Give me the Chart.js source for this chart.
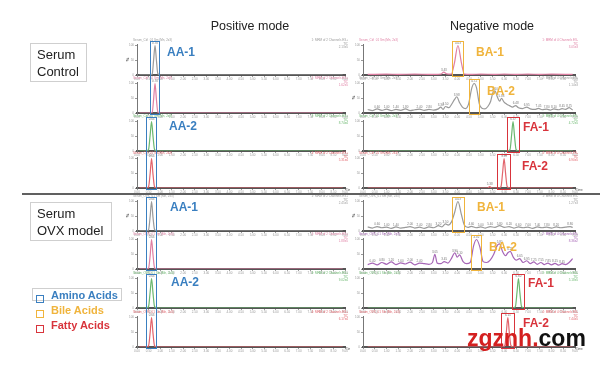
<!DOCTYPE html>
<html>
<head>
<meta charset="utf-8">
<script src="https://cdn.jsdelivr.net/npm/chart.js@4.4.0/dist/chart.umd.min.js"></script>
<style>
  body { margin: 0; width: 600px; height: 365px; background: #fff; position: relative; overflow: hidden;
         font-family: "Liberation Sans", Arial, sans-serif; }
  canvas { position: absolute; }
  .txt { position: absolute; white-space: nowrap; }
  .mode { font-size: 12.5px; color: #222; transform: translateX(-50%); }
  .sample { border: 1px solid #cfcfcf; font-size: 13px; line-height: 17px; color: #222; padding: 2px 6px; box-sizing: border-box; }
  .tag { font-weight: bold; font-size: 12px; line-height: 14px; }
  .box { position: absolute; box-sizing: border-box; border: 1.5px solid; }
  .leg { font-weight: bold; font-size: 11px; line-height: 13px; }
  .sq { position: absolute; width: 6px; height: 6px; border: 1px solid; }
</style>
</head>
<body>
<script>
// ---- data (time in min, intensity in % of base peak) ----
const timeMin = 0, timeMax = 9;

// positive mode, serum control
const aa1CtrlTime = [0.1, 0.55, 0.66, 0.72, 0.78, 0.84, 0.9, 1.0, 8.9];
const aa1CtrlCh1 = [0, 0, 4, 52, 100, 50, 5, 0, 0];
const aa1CtrlCh2 = [0, 0, 3, 48, 100, 46, 4, 0, 0];
const aa2CtrlTime = [0.1, 0.4, 0.5, 0.57, 0.63, 0.69, 0.76, 0.86, 8.9];
const aa2CtrlCh1 = [0, 0, 5, 55, 100, 52, 5, 0, 0];
const aa2CtrlCh2 = [0, 0, 4, 50, 100, 48, 4, 0, 0];

// positive mode, serum OVX model
const aa1OvxTime = [0.1, 0.4, 0.5, 0.57, 0.63, 0.69, 0.76, 0.86, 8.9];
const aa1OvxCh1 = [0, 0, 4, 50, 100, 48, 5, 0, 0];
const aa1OvxCh2 = [0, 0, 3, 46, 100, 50, 4, 0, 0];
const aa2OvxTime = [0.1, 0.4, 0.5, 0.57, 0.63, 0.69, 0.76, 0.86, 8.9];
const aa2OvxCh1 = [0, 0, 5, 55, 100, 52, 5, 0, 0];
const aa2OvxCh2 = [0, 0, 4, 50, 100, 48, 4, 0, 0];

// negative mode, serum control
const ba1CtrlTime = [0.2, 1.0, 1.5, 2.2, 2.8, 3.3, 3.43, 3.55, 3.75, 3.88, 4.03, 4.18, 4.3, 4.6, 5.0, 5.6, 6.0, 6.5, 7.0, 7.5, 8.0, 8.9];
const ba1CtrlVal = [2, 3, 2, 3, 2, 3, 10, 4, 3, 40, 100, 40, 3, 2, 3, 2, 3, 2, 3, 2, 3, 2];
const ba2CtrlTime = [0.2, 0.4, 0.6, 0.8, 1.0, 1.2, 1.4, 1.6, 1.8, 2.0, 2.2, 2.4, 2.6, 2.8, 3.0, 3.2, 3.3, 3.4, 3.5, 3.65,
  3.75, 3.88, 3.98, 4.1, 4.22, 4.35, 4.48, 4.62, 4.72, 4.82, 4.94, 5.05, 5.18, 5.3, 5.42, 5.52, 5.6, 5.7, 5.8, 5.88,
  5.98, 6.1, 6.22, 6.35, 6.48, 6.6, 6.78, 6.95, 7.1, 7.3, 7.45, 7.6, 7.8, 7.95, 8.1, 8.3, 8.45, 8.6, 8.75, 8.9];
const ba2CtrlVal = [12, 8, 14, 9, 13, 8, 12, 9, 14, 8, 11, 13, 9, 12, 10, 14, 20, 12, 22, 18,
  28, 45, 55, 35, 20, 15, 30, 85, 100, 85, 30, 16, 14, 22, 40, 70, 75, 55, 40, 50,
  38, 30, 25, 20, 25, 18, 15, 20, 14, 12, 16, 11, 13, 10, 14, 11, 15, 12, 18, 10];
const fa1CtrlTime = [0.2, 6.1, 6.24, 6.31, 6.37, 6.43, 6.5, 6.64, 8.9];
const fa1CtrlVal = [0, 0, 5, 55, 100, 52, 5, 0, 0];
const fa2CtrlTime = [0.2, 5.3, 5.38, 5.46, 5.75, 5.86, 5.93, 5.99, 6.05, 6.12, 6.25, 8.9];
const fa2CtrlVal = [0, 0, 5, 0, 0, 5, 55, 100, 52, 5, 0, 0];

// negative mode, serum OVX model
const ba1OvxTime = [0.2, 0.4, 0.6, 0.8, 1.0, 1.2, 1.4, 1.6, 1.8, 2.0, 2.2, 2.4, 2.6, 2.8, 3.0, 3.2, 3.35, 3.5, 3.62, 3.75,
  3.88, 4.03, 4.18, 4.3, 4.45, 4.6, 4.8, 5.0, 5.2, 5.4, 5.6, 5.8, 6.0, 6.2, 6.4, 6.6, 6.8, 7.0, 7.2, 7.4,
  7.6, 7.8, 8.0, 8.2, 8.4, 8.6, 8.8, 8.9];
const ba1OvxVal = [14, 10, 15, 11, 13, 9, 14, 10, 12, 15, 10, 13, 9, 14, 11, 18, 14, 24, 20, 30,
  60, 100, 55, 20, 12, 16, 11, 14, 10, 15, 12, 18, 12, 15, 10, 14, 11, 13, 9, 14,
  11, 13, 10, 14, 11, 13, 15, 12];
const ba2OvxTime = [0.2, 0.4, 0.6, 0.8, 1.0, 1.2, 1.4, 1.6, 1.8, 2.0, 2.2, 2.4, 2.6, 2.8, 2.95, 3.05, 3.15, 3.3, 3.45, 3.6,
  3.75, 3.9, 4.0, 4.1, 4.25, 4.4, 4.55, 4.7, 4.82, 4.96, 5.1, 5.25, 5.4, 5.55, 5.7, 5.8, 5.92, 6.05, 6.15, 6.25,
  6.38, 6.5, 6.65, 6.8, 6.95, 7.1, 7.25, 7.4, 7.55, 7.7, 7.85, 8.0, 8.15, 8.3, 8.45, 8.6, 8.75, 8.9];
const ba2OvxVal = [15, 20, 14, 22, 16, 24, 15, 21, 17, 23, 14, 20, 18, 16, 22, 50, 20, 18, 25, 20,
  35, 55, 40, 48, 25, 18, 22, 80, 100, 75, 25, 22, 30, 50, 80, 85, 60, 45, 55, 60,
  40, 30, 35, 22, 28, 18, 24, 16, 22, 15, 20, 14, 19, 13, 18, 15, 22, 35];
const fa1OvxTime = [0.2, 6.35, 6.47, 6.54, 6.6, 6.66, 6.73, 6.86, 8.9];
const fa1OvxVal = [0, 0, 5, 55, 100, 52, 5, 0, 0];
const fa2OvxTime = [0.2, 5.9, 6.02, 6.09, 6.15, 6.21, 6.28, 6.42, 8.9];
const fa2OvxVal = [0, 0, 5, 55, 100, 50, 5, 0, 0];

const gray = '#9a9a9a', pink = '#df7fa3', green = '#6cb870', red = '#e2646c', purple = '#a666b6';
const blue = '#3a7fc0', orange = '#f0b43c', boxRed = '#d8343c';

const leftPanels = [
  { base: 75, time: aa1CtrlTime, vals: aa1CtrlCh1, color: gray, pct: true, hl: 'Serum_Ctrl_01 Sm (Mn, 2x3)', hr: ['1: MRM of 2 Channels ES+', 'TIC', '2.13e5'] },
  { base: 113, time: aa1CtrlTime, vals: aa1CtrlCh2, color: pink, hl: 'Serum_Ctrl_01 Sm (Mn, 2x3)', hr: ['2: MRM of 2 Channels ES+', 'TIC', '1.62e5'] },
  { base: 151, time: aa2CtrlTime, vals: aa2CtrlCh1, color: green, hl: 'Serum_Ctrl_01 Sm (Mn, 2x3)', hr: ['3: MRM of 2 Channels ES+', 'TIC', '8.74e4'] },
  { base: 188, time: aa2CtrlTime, vals: aa2CtrlCh2, color: red, hl: 'Serum_Ctrl_01 Sm (Mn, 2x3)', hr: ['4: MRM of 2 Channels ES+', 'TIC', '5.31e4'], tlabel: true },
  { base: 231, time: aa1OvxTime, vals: aa1OvxCh1, color: gray, pct: true, hl: 'Serum_OVX_01 Sm (Mn, 2x3)', hr: ['1: MRM of 2 Channels ES+', 'TIC', '2.45e5'] },
  { base: 269, time: aa1OvxTime, vals: aa1OvxCh2, color: pink, hl: 'Serum_OVX_01 Sm (Mn, 2x3)', hr: ['2: MRM of 2 Channels ES+', 'TIC', '1.88e5'] },
  { base: 308, time: aa2OvxTime, vals: aa2OvxCh1, color: green, hl: 'Serum_OVX_01 Sm (Mn, 2x3)', hr: ['3: MRM of 2 Channels ES+', 'TIC', '9.02e4'] },
  { base: 347, time: aa2OvxTime, vals: aa2OvxCh2, color: red, hl: 'Serum_OVX_01 Sm (Mn, 2x3)', hr: ['4: MRM of 2 Channels ES+', 'TIC', '6.17e4'], tlabel: true }
];
const rightPanels = [
  { base: 75, time: ba1CtrlTime, vals: ba1CtrlVal, color: pink, hl: 'Serum_Ctrl_01 Sm (Mn, 2x3)', hr: ['1: MRM of 4 Channels ES-', 'TIC', '3.05e3'] },
  { base: 113, time: ba2CtrlTime, vals: ba2CtrlVal, color: gray, pct: true, hl: 'Serum_Ctrl_01 Sm (Mn, 2x3)', hr: ['2: MRM of 4 Channels ES-', 'TIC', '1.14e3'] },
  { base: 151, time: fa1CtrlTime, vals: fa1CtrlVal, color: green, hl: 'Serum_Ctrl_01 Sm (Mn, 2x3)', hr: ['3: MRM of 4 Channels ES-', 'TIC', '4.72e5'] },
  { base: 188, time: fa2CtrlTime, vals: fa2CtrlVal, color: red, hl: 'Serum_Ctrl_01 Sm (Mn, 2x3)', hr: ['4: MRM of 4 Channels ES-', 'TIC', '6.90e5'], tlabel: true },
  { base: 231, time: ba1OvxTime, vals: ba1OvxVal, color: gray, pct: true, hl: 'Serum_OVX_01 Sm (Mn, 2x3)', hr: ['1: MRM of 4 Channels ES-', 'TIC', '1.27e3'] },
  { base: 269, time: ba2OvxTime, vals: ba2OvxVal, color: purple, hl: 'Serum_OVX_01 Sm (Mn, 2x3)', hr: ['2: MRM of 4 Channels ES-', 'TIC', '8.36e2'] },
  { base: 308, time: fa1OvxTime, vals: fa1OvxVal, color: green, hl: 'Serum_OVX_01 Sm (Mn, 2x3)', hr: ['3: MRM of 4 Channels ES-', 'TIC', '5.18e5'] },
  { base: 347, time: fa2OvxTime, vals: fa2OvxVal, color: red, hl: 'Serum_OVX_01 Sm (Mn, 2x3)', hr: ['4: MRM of 4 Channels ES-', 'TIC', '7.44e5'], tlabel: true }
];

// boxes round the peaks: which panels they span and the time window
const boxes = [
  { col: 'L', from: 0, to: 1, t0: 0.56, t1: 1.0, color: blue },
  { col: 'L', from: 2, to: 3, t0: 0.39, t1: 0.87, color: blue },
  { col: 'L', from: 4, to: 5, t0: 0.39, t1: 0.87, color: blue },
  { col: 'L', from: 6, to: 7, t0: 0.39, t1: 0.87, color: blue },
  { col: 'R', from: 0, to: 0, t0: 3.78, t1: 4.29, color: orange },
  { col: 'R', from: 1, to: 1, t0: 4.48, t1: 4.98, color: orange },
  { col: 'R', from: 2, to: 2, t0: 6.11, t1: 6.66, color: boxRed },
  { col: 'R', from: 3, to: 3, t0: 5.69, t1: 6.28, color: boxRed },
  { col: 'R', from: 4, to: 4, t0: 3.78, t1: 4.33, color: orange },
  { col: 'R', from: 5, to: 5, t0: 4.58, t1: 5.07, color: orange },
  { col: 'R', from: 6, to: 6, t0: 6.32, t1: 6.88, color: boxRed },
  { col: 'R', from: 7, to: 7, t0: 5.86, t1: 6.45, color: boxRed }
];

const tags = [
  ['AA-1', 167, 52, blue], ['AA-2', 169, 126, blue], ['BA-1', 476, 52, orange], ['BA-2', 487, 91, orange],
  ['FA-1', 523, 127, boxRed], ['FA-2', 522, 166, boxRed],
  ['AA-1', 170, 207, blue], ['AA-2', 171, 282, blue], ['BA-1', 477, 207, orange], ['BA-2', 489, 247, orange],
  ['FA-1', 528, 283, boxRed], ['FA-2', 523, 323, boxRed]
];

// ---- drawing ----
const headerPlugin = {
  id: 'headers',
  afterDraw(chart, args, opts) {
    const ctx = chart.ctx, a = chart.chartArea;
    ctx.save();
    ctx.font = '3px "Liberation Sans"';
    ctx.fillStyle = opts.color;
    ctx.textBaseline = 'top';
    ctx.textAlign = 'left';
    ctx.fillText(opts.left, a.left - 4, 2);
    ctx.textAlign = 'right';
    opts.right.forEach((s, i) => ctx.fillText(s, a.right + 3, 2 + i * 3.2));
    // retention time labels above local maxima
    const d = chart.data.datasets[0].data;
    const pts = chart.getDatasetMeta(0).data;
    ctx.fillStyle = '#777';
    ctx.textAlign = 'center';
    ctx.textBaseline = 'bottom';
    for (let i = 1; i < d.length - 1; i++) {
      if (d[i].y > d[i - 1].y && d[i].y >= d[i + 1].y && d[i].y > 4) {
        ctx.fillText(d[i].x.toFixed(2), pts[i].x, pts[i].y - 0.5);
      }
    }
    if (opts.time) {
      ctx.fillStyle = '#555';
      ctx.textAlign = 'left';
      ctx.textBaseline = 'top';
      ctx.fillText('Time', a.right + 1, a.bottom + 1);
    }
    ctx.restore();
  }
};

function makePanel(p, x, w, padR) {
  const c = document.createElement('canvas');
  c.width = w;
  c.height = 44;
  c.style.left = x + 'px';
  c.style.top = (p.base - 38) + 'px';
  document.body.appendChild(c);
  const chart = new Chart(c, {
    type: 'line',
    data: {
      datasets: [{
        data: p.time.map((t, i) => ({ x: t, y: p.vals[i] })),
        borderColor: p.color,
        borderWidth: 1.2,
        pointRadius: 0,
        cubicInterpolationMode: 'monotone',
        fill: false
      }]
    },
    options: {
      responsive: false,
      animation: false,
      devicePixelRatio: 1,
      layout: { padding: { top: 7, right: padR, left: 0, bottom: 0 } },
      plugins: {
        legend: { display: false },
        tooltip: { enabled: false },
        headers: { color: p.color, left: p.hl, right: p.hr, time: !!p.tlabel }
      },
      scales: {
        x: {
          type: 'linear', min: timeMin, max: timeMax,
          ticks: { stepSize: 0.5, font: { size: 3 }, color: '#999', maxRotation: 0, autoSkip: false, padding: 0,
                   includeBounds: false, callback: v => v.toFixed(2) },
          grid: { drawOnChartArea: false, tickLength: 2, color: '#999' },
          border: { color: '#555', width: 2 },
          afterFit(s) { s.height = 6; }
        },
        y: {
          min: 0, max: 105,
          ticks: { stepSize: 50, font: { size: 3 }, color: '#999', padding: 1, includeBounds: false },
          grid: { drawOnChartArea: false, tickLength: 2, color: '#999' },
          border: { color: '#777', width: 1 },
          title: { display: !!p.pct, text: '%', font: { size: 4, weight: 'bold' }, color: '#333', padding: 0 },
          afterFit(s) { s.width = 12; }
        }
      }
    },
    plugins: [headerPlugin]
  });
  chart.top = p.base - 38;
  chart.left = x;
  return chart;
}

const leftCharts = leftPanels.map(p => makePanel(p, 125, 225, 5));
const rightCharts = rightPanels.map(p => makePanel(p, 351, 249, 25));

function addDiv(cls, html, css) {
  const d = document.createElement('div');
  d.className = cls;
  d.innerHTML = html;
  Object.assign(d.style, css);
  document.body.appendChild(d);
  return d;
}

boxes.forEach(b => {
  const charts = b.col === 'L' ? leftCharts : rightCharts;
  const c0 = charts[b.from], c1 = charts[b.to];
  const xs = c0.scales.x;
  const x0 = c0.left + xs.getPixelForValue(b.t0);
  const x1 = c0.left + xs.getPixelForValue(b.t1);
  const y0 = c0.top + c0.chartArea.top - 3;
  const y1 = c1.top + c1.chartArea.bottom + 2;
  addDiv('box', '', { left: x0 + 'px', top: y0 + 'px', width: (x1 - x0) + 'px', height: (y1 - y0) + 'px', borderColor: b.color });
});

tags.forEach(([t, x, y, col]) => addDiv('txt tag', t, { left: x + 'px', top: (y - 7) + 'px', color: col }));

addDiv('txt mode', 'Positive mode', { left: '250px', top: '19px' });
addDiv('txt mode', 'Negative mode', { left: '492px', top: '19px' });
addDiv('txt sample', 'Serum<br>Control', { left: '30px', top: '43px', width: '57px', height: '39px' });
addDiv('txt sample', 'Serum<br>OVX model', { left: '30px', top: '202px', width: '82px', height: '39px' });
addDiv('', '', { position: 'absolute', left: '22px', top: '193px', width: '578px', height: '2px', background: '#606060' });

// legend
addDiv('', '', { position: 'absolute', left: '32px', top: '288px', width: '90px', height: '13px', border: '1px solid #cfcfcf', boxSizing: 'border-box' });
[['Amino Acids', blue, 296], ['Bile Acids', orange, 311], ['Fatty Acids', boxRed, 326]].forEach(([t, col, y]) => {
  addDiv('sq', '', { left: '36px', top: (y - 1) + 'px', borderColor: col });
  addDiv('txt leg', t, { left: '51px', top: (y - 7) + 'px', color: col });
});

addDiv('txt', '<span style="color:#d42020">zgznh.</span><span style="color:#111">com</span>',
  { left: '467px', top: '326px', fontSize: '23px', fontWeight: 'bold', lineHeight: '25px' });
</script>
</body>
</html>
